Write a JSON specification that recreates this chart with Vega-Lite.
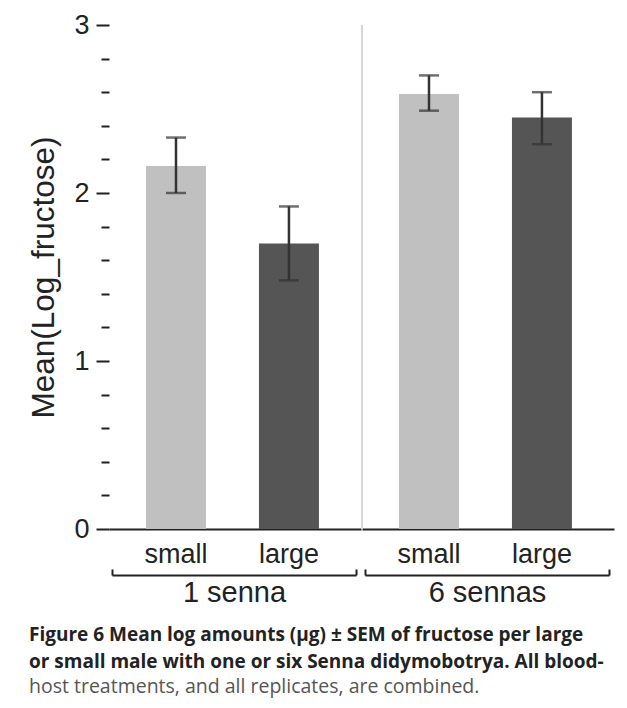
{
  "$schema": "https://vega.github.io/schema/vega-lite/v6.json",
  "padding": {"left": 28, "top": 11, "right": 5, "bottom": 5},
  "background": "white",
  "data": {"values": [
    {"group": "1 senna", "size": "small", "mean": 2.16, "lo": 2.00, "hi": 2.33},
    {"group": "1 senna", "size": "large", "mean": 1.70, "lo": 1.48, "hi": 1.92},
    {"group": "6 sennas", "size": "small", "mean": 2.59, "lo": 2.49, "hi": 2.70},
    {"group": "6 sennas", "size": "large", "mean": 2.45, "lo": 2.29, "hi": 2.60}
  ]},
  "title": {
    "text": ["Figure 6 Mean log amounts (µg) ± SEM of fructose per large", "or small male with one or six Senna didymobotrya. All blood-"],
    "subtitle": "host treatments, and all replicates, are combined.",
    "orient": "bottom", "anchor": "start", "frame": "bounds",
    "font": "Open Sans", "fontSize": 19, "fontWeight": "bold", "color": "#222", "lineHeight": 27,
    "subtitleFont": "Open Sans", "subtitleFontSize": 19.5, "subtitleColor": "#555", "subtitleFontWeight": "normal",
    "subtitleLineHeight": 27, "subtitlePadding": 6, "offset": 19
  },
  "facet": {"column": {"field": "group", "type": "nominal", "title": null, "header": {"labels": false, "title": null}}},
  "spacing": 0,
  "resolve": {"scale": {"x": "independent"}},
  "spec": {
    "width": 252,
    "height": 504,
    "layer": [
      {
        "layer": [
          {
            "mark": {"type": "bar"},
            "encoding": {
              "x": {"field": "size", "type": "nominal", "sort": ["small", "large"],
                "scale": {"domain": ["small", "large"], "paddingInner": 0.469, "paddingOuter": 0.35, "align": 0.468},
                "axis": {"title": null, "domain": true, "domainColor": "#222", "domainWidth": 2, "ticks": false,
                  "labelFontSize": 27, "labelFont": "Liberation Sans", "labelColor": "#222", "labelPadding": 12, "labelAngle": 0}},
              "y": {"field": "mean", "type": "quantitative", "scale": {"domain": [0, 3], "nice": false},
                "axis": {"tickCount": 15,
                  "labelExpr": "abs(datum.value - round(datum.value)) < 0.001 ? format(datum.value, 'd') : ''",
                  "domain": false, "grid": false,
                  "tickSize": {"condition": {"test": "abs(datum.value - round(datum.value)) < 0.001", "value": 13}, "value": 8},
                  "tickWidth": 2, "tickColor": "#222",
                  "labelFontSize": 27, "labelFont": "Liberation Sans", "labelColor": "#222", "labelPadding": 7,
                  "labelFlush": false, "labelOverlap": false,
                  "title": "Mean(Log_fructose)", "titleFontSize": 31.5, "titleFont": "Liberation Sans",
                  "titleFontWeight": "normal", "titleColor": "#222", "titlePadding": 13}},
              "color": {"field": "size", "type": "nominal",
                "scale": {"domain": ["small", "large"], "range": ["#c0c0c0", "#555555"]}, "legend": null}
            }
          },
          {
            "mark": {"type": "errorbar", "ticks": {"size": 20, "thickness": 2.5, "color": "#333"}, "rule": {"strokeWidth": 2.5, "color": "#333"}},
            "encoding": {
              "x": {"field": "size", "type": "nominal"},
              "y": {"field": "lo", "type": "quantitative", "title": "Mean(Log_fructose)"},
              "y2": {"field": "hi"}
            }
          }
        ]
      },
      {
        "transform": [{"filter": "datum.group == '6 sennas' && datum.size == 'small'"}],
        "mark": {"type": "rule", "color": "#d6d6d6", "strokeWidth": 2},
        "encoding": {"x": {"field": "group", "type": "nominal", "bandPosition": 0, "axis": null}}
      },
      {
        "transform": [{"filter": "datum.size == 'small'"}],
        "mark": {"type": "rule", "opacity": 0},
        "encoding": {"x": {"field": "group", "type": "nominal", "scale": {"range": [3, 247]},
          "axis": {"title": null, "orient": "bottom", "offset": 46, "domain": true, "domainColor": "#222", "domainWidth": 2,
            "ticks": true, "tickBand": "extent", "tickSize": -6, "tickWidth": 2, "tickColor": "#222",
            "labelFontSize": 29, "labelFont": "Liberation Sans", "labelColor": "#222", "labelPadding": 9, "labelAngle": 0}}}
      }
    ],
    "resolve": {"scale": {"x": "independent"}}
  },
  "config": {"view": {"stroke": null}}
}
